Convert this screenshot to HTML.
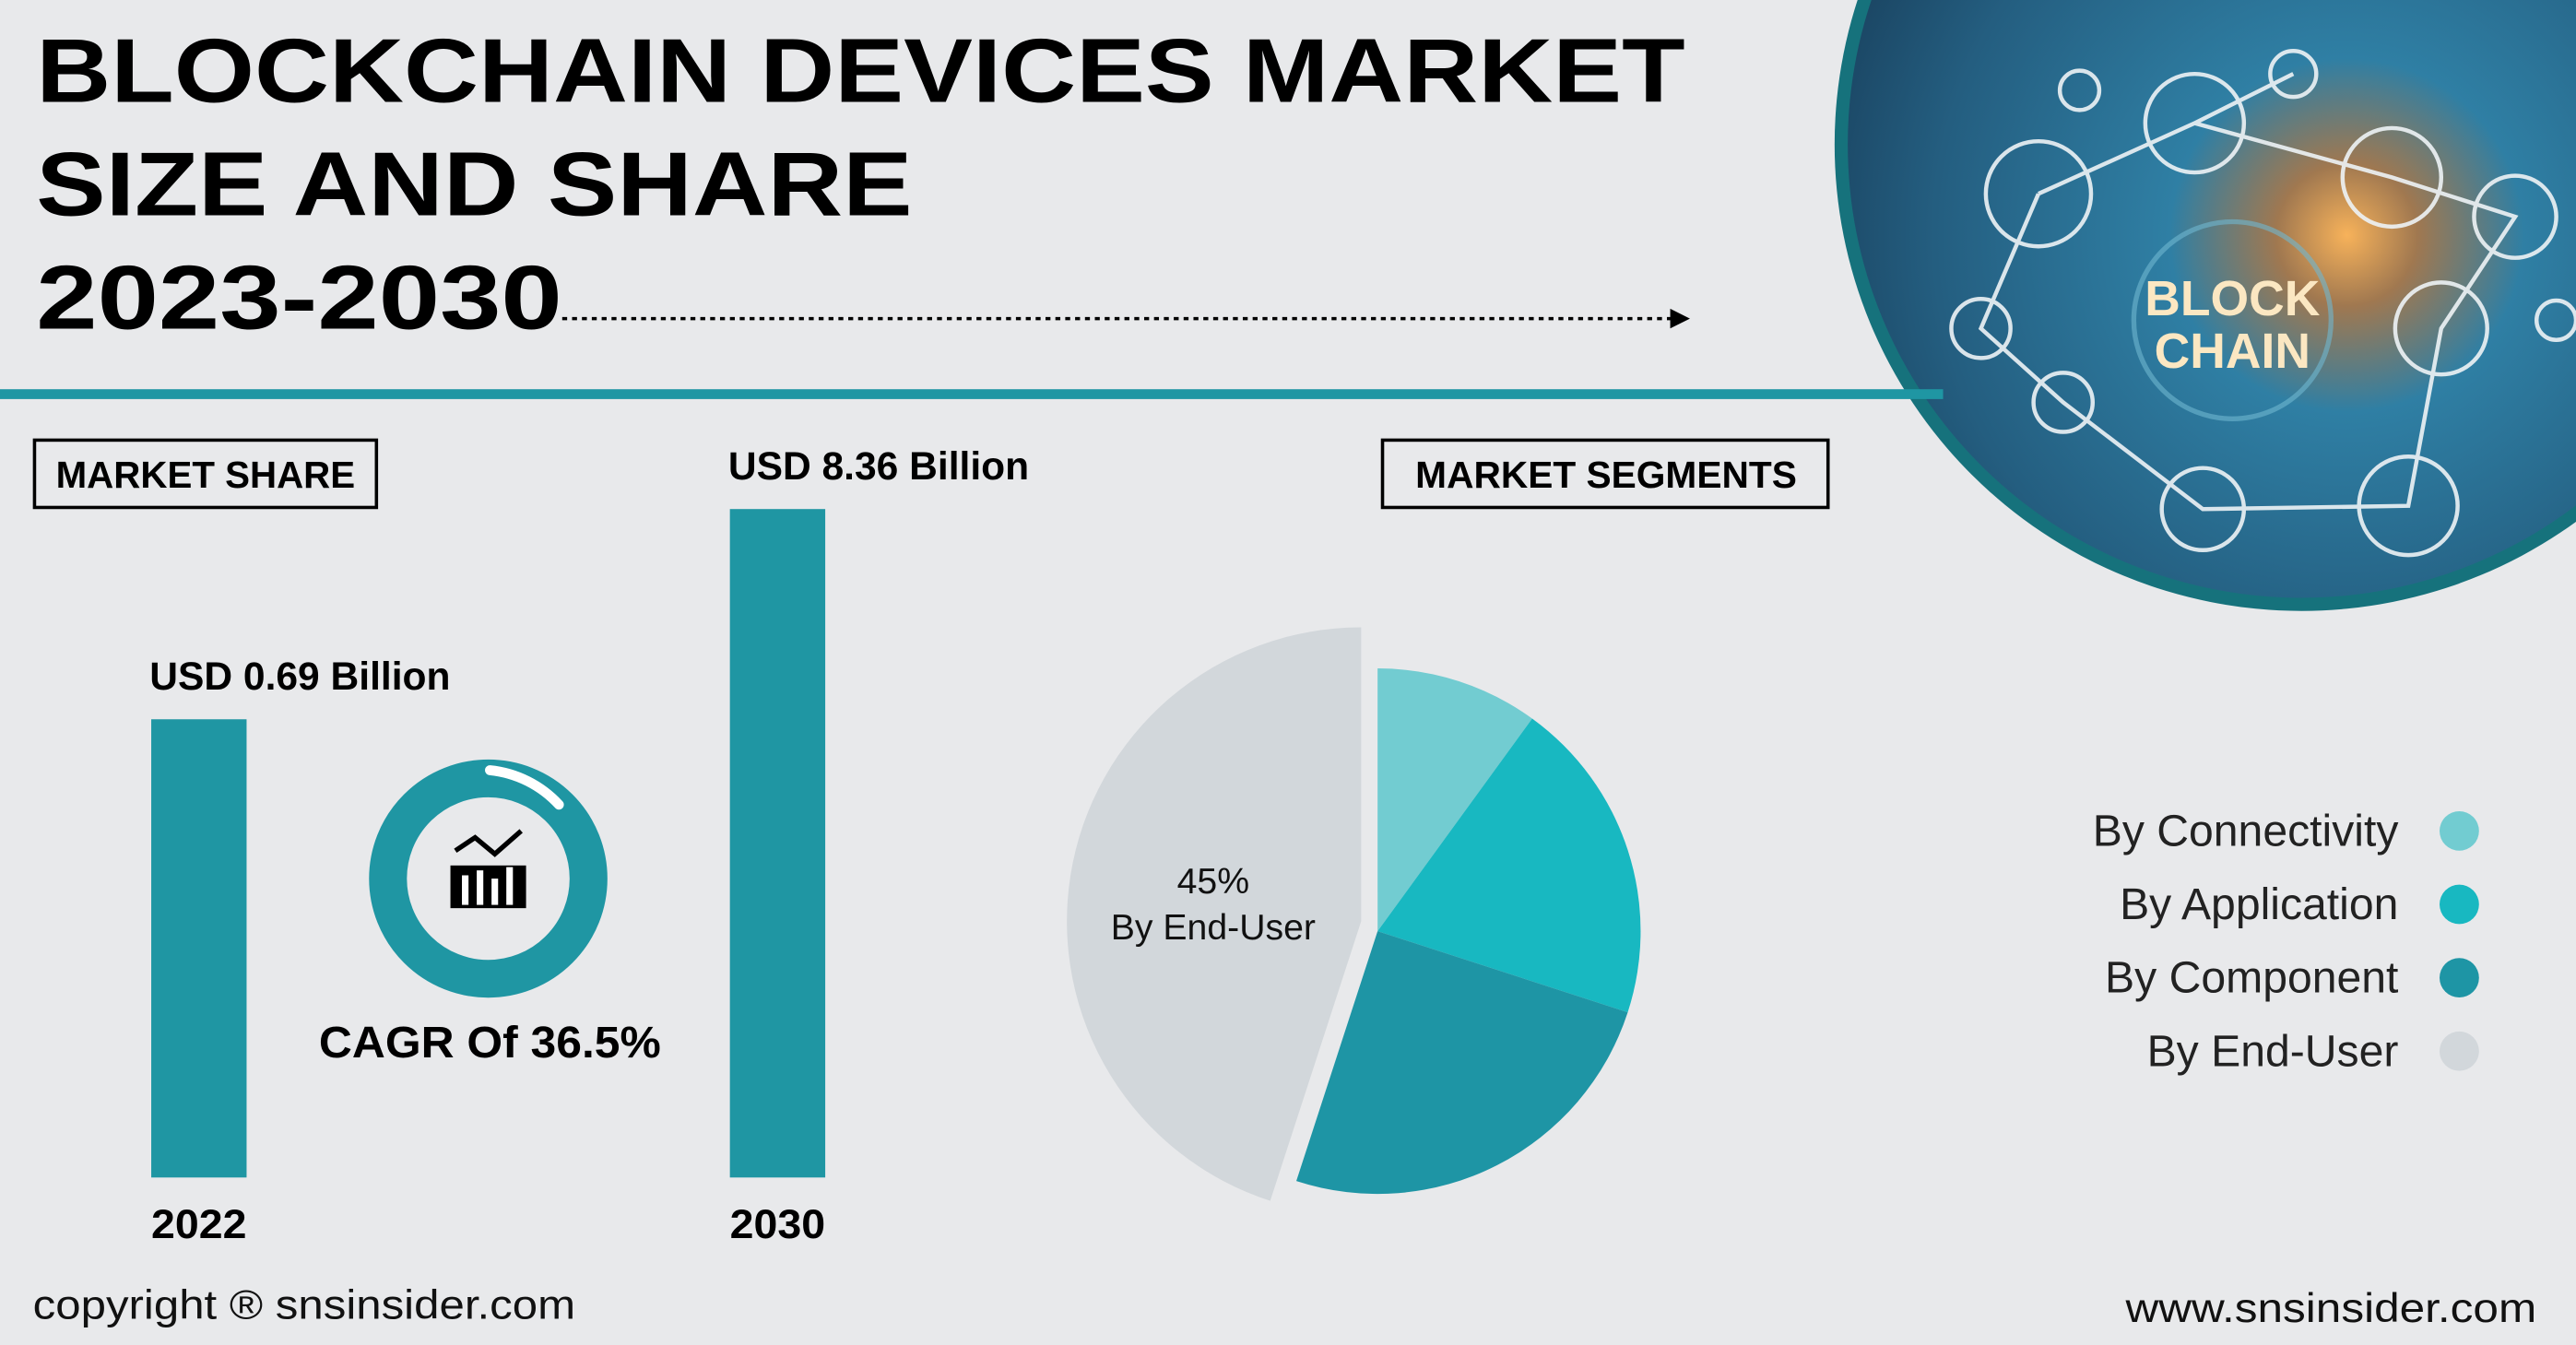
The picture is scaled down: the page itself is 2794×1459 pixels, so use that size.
<!DOCTYPE html>
<html><head><meta charset="utf-8"><style>
html,body{margin:0;padding:0;background:#e8e9eb;}
svg{display:block;font-family:"Liberation Sans","DejaVu Sans",sans-serif;}
</style></head><body>
<svg width="2794" height="1459" viewBox="0 0 1567 819" preserveAspectRatio="none">
<defs>
<radialGradient id="gimg" cx="0.55" cy="0.6" r="0.65">
<stop offset="0" stop-color="#f7b25a"/><stop offset="0.12" stop-color="#a07850"/><stop offset="0.3" stop-color="#2f7fa4"/><stop offset="0.7" stop-color="#245e80"/><stop offset="1" stop-color="#173c58"/>
</radialGradient>
</defs>
<rect width="1567" height="819" fill="#e8e9eb"/>
<g>
<circle cx="1400" cy="88" r="284" fill="#16727c"/>
<circle cx="1400" cy="88" r="276" fill="url(#gimg)"/>
<g fill="none" stroke="#eef3f6" stroke-width="2.5" opacity="0.9">
<circle cx="1335" cy="75" r="30"/><circle cx="1240" cy="118" r="32"/><circle cx="1455" cy="108" r="30"/><circle cx="1530" cy="132" r="25"/>
<circle cx="1485" cy="200" r="28"/><circle cx="1205" cy="200" r="18"/><circle cx="1255" cy="245" r="18"/><circle cx="1340" cy="310" r="25"/><circle cx="1465" cy="308" r="30"/>
<circle cx="1395" cy="45" r="14"/><circle cx="1265" cy="55" r="12"/><circle cx="1555" cy="195" r="12"/>
<path d="M1240 118L1335 75L1455 108L1530 132L1485 200L1465 308L1340 310L1255 245L1205 200L1240 118M1335 75L1395 45"/>
</g>
<circle cx="1358" cy="195" r="60" fill="none" stroke="#6fb7d0" stroke-width="3" opacity="0.6"/>
<text x="1358" y="192" font-size="30" font-weight="bold" fill="#fbe7c2" text-anchor="middle">BLOCK</text>
<text x="1358" y="224" font-size="30" font-weight="bold" fill="#fbe7c2" text-anchor="middle">CHAIN</text>
</g>
<g font-weight="bold" font-size="55" fill="#000">
<text x="22" y="62" textLength="1003" lengthAdjust="spacingAndGlyphs">BLOCKCHAIN DEVICES MARKET</text>
<text x="22" y="131" textLength="533" lengthAdjust="spacingAndGlyphs">SIZE AND SHARE</text>
<text x="22" y="200" textLength="320" lengthAdjust="spacingAndGlyphs">2023-2030</text>
</g>
<line x1="342" y1="194" x2="1018" y2="194" stroke="#000" stroke-width="2" stroke-dasharray="3,3"/>
<path d="M1016 188L1028 194L1016 200Z" fill="#000"/>
<rect x="0" y="237" width="1182" height="6" fill="#1f96a3"/>
<g>
<rect x="21" y="268" width="208" height="41" fill="none" stroke="#000" stroke-width="2"/>
<text x="125" y="297" font-size="23" font-weight="bold" text-anchor="middle" textLength="182" lengthAdjust="spacingAndGlyphs">MARKET SHARE</text>
</g>
<g>
<rect x="841" y="268" width="271" height="41" fill="none" stroke="#000" stroke-width="2"/>
<text x="977" y="297" font-size="23" font-weight="bold" text-anchor="middle" textLength="232" lengthAdjust="spacingAndGlyphs">MARKET SEGMENTS</text>
</g>
<g id="bars"></g>
<g>
<circle cx="297" cy="535" r="61" fill="none" stroke="#1f96a3" stroke-width="23"/>
<path d="M298 469A66 66 0 0 1 340 490" fill="none" stroke="#fff" stroke-width="6" stroke-linecap="round"/>
<g fill="#000"><rect x="274" y="527" width="46" height="26"/><path d="M277 518L289 510L301 520L317 506" fill="none" stroke="#000" stroke-width="3"/></g>
<g fill="#fff"><rect x="281" y="533" width="4" height="18"/><rect x="290" y="530" width="4" height="21"/><rect x="299" y="535" width="4" height="16"/><rect x="308" y="528" width="4" height="23"/></g>
<text x="298" y="644" font-size="27" font-weight="bold" text-anchor="middle" textLength="208" lengthAdjust="spacingAndGlyphs">CAGR Of 36.5%</text>
</g>
<g id="pie"></g>
<g id="legend"></g>
<text x="20" y="803" font-size="25" fill="#111" textLength="330" lengthAdjust="spacingAndGlyphs">copyright ® snsinsider.com</text>
<text x="1543" y="805" font-size="25" fill="#111" text-anchor="end" textLength="250" lengthAdjust="spacingAndGlyphs">www.snsinsider.com</text>
</svg>
<script>
const years = ["2022", "2030"];
const marketValues = [0.69, 8.36];
const valueLabels = ["USD 0.69 Billion", "USD 8.36 Billion"];
const segments = ["By Connectivity", "By Application", "By Component", "By End-User"];
const shares = [10, 20, 25, 45];
const NS = "http://www.w3.org/2000/svg";
function mk(tag, attrs, parent){const e=document.createElementNS(NS,tag);for(const k in attrs)e.setAttribute(k,attrs[k]);parent.appendChild(e);return e;}
const barG=document.getElementById('bars');
const baseY=717, xPos=i=>92+i*352;
const hScale=v=>267.5+16.69*v;
marketValues.forEach((v,i)=>{
  const h=hScale(v);
  const r=mk('rect',{x:xPos(i),y:baseY-h,width:58,height:h,fill:'#1f96a3'},barG);
  
  
  const t=mk('text',{x:xPos(i)-1,y:baseY-h-18,'font-size':24,'font-weight':'bold',textLength:183,lengthAdjust:'spacingAndGlyphs'},barG);
  t.textContent=valueLabels[i];
  
  
  const y=mk('text',{x:xPos(i)+29,y:754,'font-size':25,'font-weight':'bold','text-anchor':'middle',textLength:58,lengthAdjust:'spacingAndGlyphs'},barG);
  y.textContent=years[i];
  
  
});
const pieG=document.getElementById('pie');
const colors=['#72ccd1','#18b8c1','#1e95a5','#d2d7db'];
const total=shares.reduce((a,b)=>a+b,0);
let a0=0;
shares.forEach((s,i)=>{
  const a1=a0+s/total*2*Math.PI;
  const last=i===shares.length-1;
  const cx=last?828:838, cy=last?561:567, r=last?179:160;
  const p=a=>[cx+r*Math.sin(a), cy-r*Math.cos(a)];
  const [x0,y0]=p(a0),[x1,y1]=p(a1);
  const large=(a1-a0)>Math.PI?1:0;
  const path=mk('path',{d:`M${cx} ${cy}L${x0} ${y0}A${r} ${r} 0 ${large} 1 ${x1} ${y1}Z`,fill:colors[i]},pieG);
  
  
  if(last){
    const t1=mk('text',{x:738,y:544,'font-size':22,'text-anchor':'middle',fill:'#111'},pieG);
    t1.textContent=s+'%';
    
    
    const t2=mk('text',{x:738,y:572,'font-size':22,'text-anchor':'middle',fill:'#111'},pieG);
    t2.textContent=segments[i];
    
    
  }
  a0=a1;
});
const lg=document.getElementById('legend');
segments.forEach((s,i)=>{
  const y=506+i*44.7;
  const c=mk('circle',{cx:1496,cy:y,r:12,fill:colors[i]},lg);
  
  
  const t=mk('text',{x:1459,y:y+9,'font-size':27,'text-anchor':'end',fill:'#222'},lg);
  t.textContent=s;
  
  
});
</script>
</body></html>
